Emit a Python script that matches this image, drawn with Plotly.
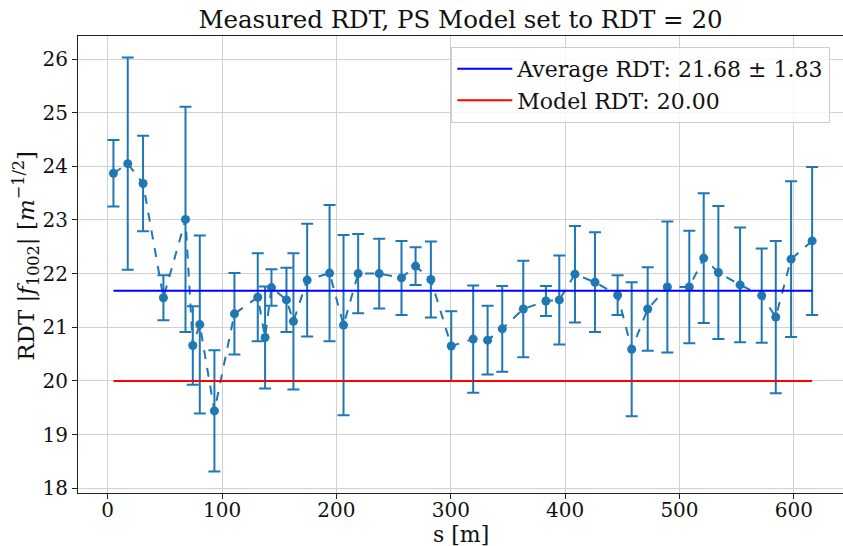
import plotly.graph_objects as go

# Measured resonance driving term along the ring
s_pos = [5.0, 17.5, 30.9, 48.7, 68.0, 74.4, 80.5, 93.3, 110.8, 131.2, 137.6, 143.2,
         156.3, 162.4, 174.4, 194.0, 206.2, 219.0, 237.4, 256.9, 269.2, 282.6, 300.4,
         319.6, 332.2, 345.0, 363.4, 383.2, 394.9, 408.6, 426.1, 445.9, 458.2, 472.2,
         489.4, 508.6, 521.2, 534.0, 553.0, 571.9, 584.2, 597.6, 616.0]
rdt = [23.87, 24.05, 23.68, 21.55, 23.01, 20.66, 21.05, 19.44, 21.25, 21.56, 20.81, 21.74,
       21.51, 21.11, 21.88, 22.01, 21.04, 22.00, 22.00, 21.92, 22.14, 21.89, 20.65,
       20.78, 20.76, 20.97, 21.34, 21.49, 21.51, 21.99, 21.84, 21.60, 20.59, 21.34,
       21.75, 21.75, 22.29, 22.02, 21.79, 21.59, 21.19, 22.27, 22.61]
rdt_err = [0.62, 1.98, 0.89, 0.42, 2.10, 0.73, 1.66, 1.13, 0.76, 0.82, 0.95, 0.34,
           0.60, 1.27, 1.05, 1.27, 1.68, 0.74, 0.65, 0.69, 0.35, 0.71, 0.65,
           1.00, 0.64, 0.80, 0.90, 0.28, 0.83, 0.90, 0.93, 0.37, 1.25, 0.78,
           1.22, 1.05, 1.21, 1.24, 1.07, 0.88, 1.42, 1.45, 1.38]

avg_rdt = 21.68
avg_std = 1.83
model_rdt = 20.00

FONT = "DejaVu Serif"
C0 = "#1f77b4"
TXT = "#111111"

fig = go.Figure()

fig.add_trace(go.Scatter(
    x=s_pos, y=rdt, mode="lines+markers",
    line=dict(color=C0, width=2, dash="dash"),
    marker=dict(color=C0, size=9),
    error_y=dict(type="data", array=rdt_err, visible=True,
                 color=C0, thickness=2, width=6),
    showlegend=False,
))

span = [s_pos[0], s_pos[-1]]
fig.add_trace(go.Scatter(
    x=span, y=[avg_rdt, avg_rdt], mode="lines",
    line=dict(color="blue", width=2),
    name=f"Average RDT: {avg_rdt:.2f} ± {avg_std:.2f}",
))
fig.add_trace(go.Scatter(
    x=span, y=[model_rdt, model_rdt], mode="lines",
    line=dict(color="red", width=2),
    name=f"Model RDT: {model_rdt:.2f}",
))

axis_common = dict(
    showline=True, linecolor="#222222", linewidth=1.2, mirror=True,
    ticks="outside", ticklen=5, tickwidth=1.2, tickcolor="#222222",
    showgrid=True, gridcolor="#d0d0d0", gridwidth=1.3,
    zeroline=False, tickfont=dict(family=FONT, size=20, color=TXT),
)

fig.update_layout(
    width=843, height=546,
    margin=dict(l=78, r=0, t=36, b=53),
    paper_bgcolor="white", plot_bgcolor="white",
    font=dict(family=FONT, color=TXT),
    title=dict(text="Measured RDT, PS Model set to RDT = 20",
               font=dict(family=FONT, size=24.5, color=TXT),
               x=0.5, xanchor="center", y=0.965, yanchor="middle",
               xref="paper"),
    xaxis=dict(axis_common, range=[-26, 643], tickvals=[0, 100, 200, 300, 400, 500, 600],
               ticklabelstandoff=-6),
    yaxis=dict(axis_common, range=[17.91, 26.43], tickvals=list(range(18, 27))),
    legend=dict(x=0.488, y=0.976, xanchor="left", yanchor="top",
                itemwidth=55,
                bgcolor="rgba(255,255,255,0.82)", bordercolor="#cccccc", borderwidth=1,
                font=dict(family=FONT, size=22, color=TXT)),
    annotations=[
        dict(text="s [m]", xref="paper", yref="paper", x=0.5, y=-0.09,
             xanchor="center", yanchor="middle", showarrow=False,
             font=dict(family=FONT, size=22, color=TXT)),
        dict(text="RDT |<i>f</i><sub>1002</sub>| [<i>m</i><sup>−1/2</sup>]",
             xref="paper", yref="paper", x=-0.068, y=0.519, textangle=-90,
             xanchor="center", yanchor="middle", showarrow=False,
             font=dict(family=FONT, size=23, color=TXT)),
    ],
)

fig.write_html("out.html")
